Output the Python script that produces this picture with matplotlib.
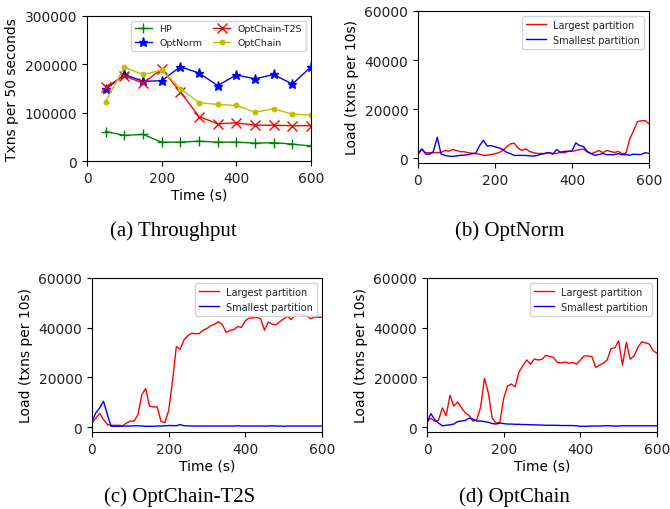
import matplotlib
matplotlib.use('Agg')
import matplotlib.pyplot as plt

# 吞吐量数据，每 50 秒一个点
tp_time = [50, 100, 150, 200, 250, 300, 350, 400, 450, 500, 550, 600]
tp_hp = [61000, 53000, 55000, 39000, 39000, 41000, 39000, 39000, 37000, 38000, 35000, 31000]
tp_optnorm = [148000, 179000, 165000, 166000, 195000, 182000, 156000, 178000, 170000, 179000, 159000, 195000]
tp_t2s = [153000, 176000, 161000, 190000, 143000, 92000, 77000, 79000, 74000, 74000, 73000, 73000]
tp_optchain = [123000, 194000, 179000, 188000, 150000, 121000, 117000, 115000, 101000, 108000, 97000, 95000]

# 负载数据，每 10 秒一个点，0..600
load_time = list(range(0, 610, 10))

optnorm_largest = [1500, 3500, 2200, 2200, 2200, 2200, 2300, 3100, 2800, 3500,
                   3100, 2600, 2600, 2200, 2000, 1800, 1600, 1100, 1200, 1500,
                   1800, 2200, 3100, 4500, 5800, 6100, 4100, 3100, 3800, 2700,
                   2200, 1900, 1900, 1900, 2200, 1900, 1900, 2300, 2200, 2700,
                   2800, 3100, 3500, 3700, 2400, 1800, 2400, 3100, 2200, 3100,
                   2700, 2300, 2700, 1800, 2000, 7800, 11200, 14900, 15200, 15300,
                   14000]
optnorm_smallest = [1800, 3800, 1600, 1600, 2700, 8500, 1600, 1100, 800, 700,
                    900, 1100, 1200, 1400, 1800, 2000, 5100, 7200, 4900, 5100,
                    4600, 4200, 3500, 2400, 1800, 1100, 1100, 1100, 1100, 900,
                    800, 1100, 1600, 1900, 2300, 1600, 3500, 2400, 2700, 2800,
                    3000, 6200, 5100, 4700, 2700, 1800, 1100, 1500, 1900, 1400,
                    1400, 1400, 1800, 1400, 1400, 1200, 1600, 1500, 1500, 2200,
                    1900]

t2s_largest = [1600, 3600, 5500, 3000, 1000, 700, 700, 700, 500, 1600,
               2400, 2400, 5000, 13000, 15500, 8400, 8100, 8100, 2300, 1800,
               6600, 18500, 32400, 31300, 35100, 36800, 37700, 37600, 37600, 39000,
               39700, 40800, 41400, 42400, 41200, 38100, 38900, 39200, 40500, 40100,
               42800, 43900, 43900, 44200, 43500, 39000, 42300, 41400, 41200, 42400,
               43500, 44600, 43200, 45600, 45200, 45000, 44800, 43600, 44200, 44200,
               44200]
t2s_smallest = [2300, 5700, 7700, 10400, 5000, 300, 300, 300, 400, 400,
                400, 500, 500, 400, 300, 300, 300, 400, 400, 500,
                600, 600, 500, 1000, 500, 500, 400, 400, 400, 400,
                400, 400, 400, 400, 400, 400, 400, 400, 500, 400,
                400, 400, 400, 400, 400, 400, 400, 500, 400, 400,
                300, 400, 400, 400, 400, 400, 400, 400, 400, 400,
                400]

optchain_largest = [1900, 3600, 2300, 2700, 7700, 4600, 12800, 8400, 10100, 7700,
                    5700, 4600, 2300, 3000, 8100, 19600, 13800, 3600, 1600, 1900,
                    11500, 16500, 17300, 16200, 22200, 24600, 27000, 25300, 27400, 27000,
                    27300, 28900, 28400, 28000, 26000, 25800, 26200, 25700, 26000, 25300,
                    27000, 28600, 28600, 28400, 24000, 24900, 25700, 27000, 31600, 31900,
                    34700, 24900, 34100, 27300, 28600, 32000, 34300, 33900, 33400, 30700,
                    29700]
optchain_smallest = [1900, 5400, 3000, 1600, 500, 700, 900, 1200, 2200, 2400,
                     2700, 3600, 3200, 2400, 2400, 2200, 1900, 1400, 1200, 1600,
                     1400, 1200, 1200, 1100, 1100, 1000, 1000, 900, 900, 800,
                     800, 700, 700, 700, 700, 600, 600, 600, 600, 500,
                     300, 300, 300, 400, 400, 400, 500, 500, 500, 400,
                     400, 500, 500, 500, 500, 500, 500, 500, 500, 500,
                     500]

plt.rcParams['font.family'] = 'DejaVu Sans'
plt.rcParams['font.size'] = 10
plt.rcParams['text.color'] = '#222222'
plt.rcParams['xtick.labelcolor'] = '#222222'
plt.rcParams['ytick.labelcolor'] = '#222222'

fig = plt.figure(figsize=(6.7, 5.1), dpi=100)
W, H = 670.0, 510.0


def place(left, top, right, bottom):
    return fig.add_axes([left / W, 1 - bottom / H, (right - left) / W, (bottom - top) / H])


# (a) 吞吐量
ax = place(87, 17, 311, 162)
ax.plot(tp_time, tp_hp, 'g-', marker='+', markersize=7, linewidth=1, label='HP')
ax.plot(tp_time, tp_optnorm, 'b-', marker='*', markersize=6.5, linewidth=1, label='OptNorm')
ax.plot(tp_time, tp_t2s, 'r-', marker='x', markersize=6.5, linewidth=1, label='OptChain-T2S')
ax.plot(tp_time, tp_optchain, 'y-', marker='.', markersize=6.5, linewidth=1, label='OptChain')
ax.set_xlim(0, 600)
ax.set_ylim(0, 300000)
ax.set_xticks([0, 200, 400, 600])
ax.set_yticks([0, 100000, 200000, 300000])
ax.set_xlabel('Time (s)', labelpad=2)
ax.set_ylabel('Txns per 50 seconds')
ax.legend(loc='upper right', ncol=2, fontsize=6.8, handlelength=1.8, columnspacing=1.2)


def load_plot(ax, largest, smallest, xlabel=True):
    ax.plot(load_time, largest, 'r-', linewidth=1, label='Largest partition')
    ax.plot(load_time, smallest, 'b-', linewidth=1, label='Smallest partition')
    ax.set_xlim(0, 600)
    ax.set_ylim(-2000, 60000)
    ax.set_xticks([0, 200, 400, 600])
    ax.set_yticks([0, 20000, 40000, 60000])
    if xlabel:
        ax.set_xlabel('Time (s)', labelpad=2)
    ax.set_ylabel('Load (txns per 10s)')
    ax.legend(loc='upper right', fontsize=7)


load_plot(place(418, 12, 649, 164), optnorm_largest, optnorm_smallest, xlabel=False)
load_plot(place(92, 279, 322, 433), t2s_largest, t2s_smallest)
load_plot(place(427, 279, 657, 433), optchain_largest, optchain_smallest)

# 子图标题
cap = dict(ha='center', va='center', fontsize=15, family='Liberation Serif', color='black')
fig.text(173 / W, 1 - 231 / H, '(a) Throughput', **cap)
fig.text(510 / W, 1 - 231 / H, '(b) OptNorm', **cap)
fig.text(180 / W, 1 - 497 / H, '(c) OptChain-T2S', **cap)
fig.text(514 / W, 1 - 497 / H, '(d) OptChain', **cap)

fig.savefig('out.png', dpi=100)
